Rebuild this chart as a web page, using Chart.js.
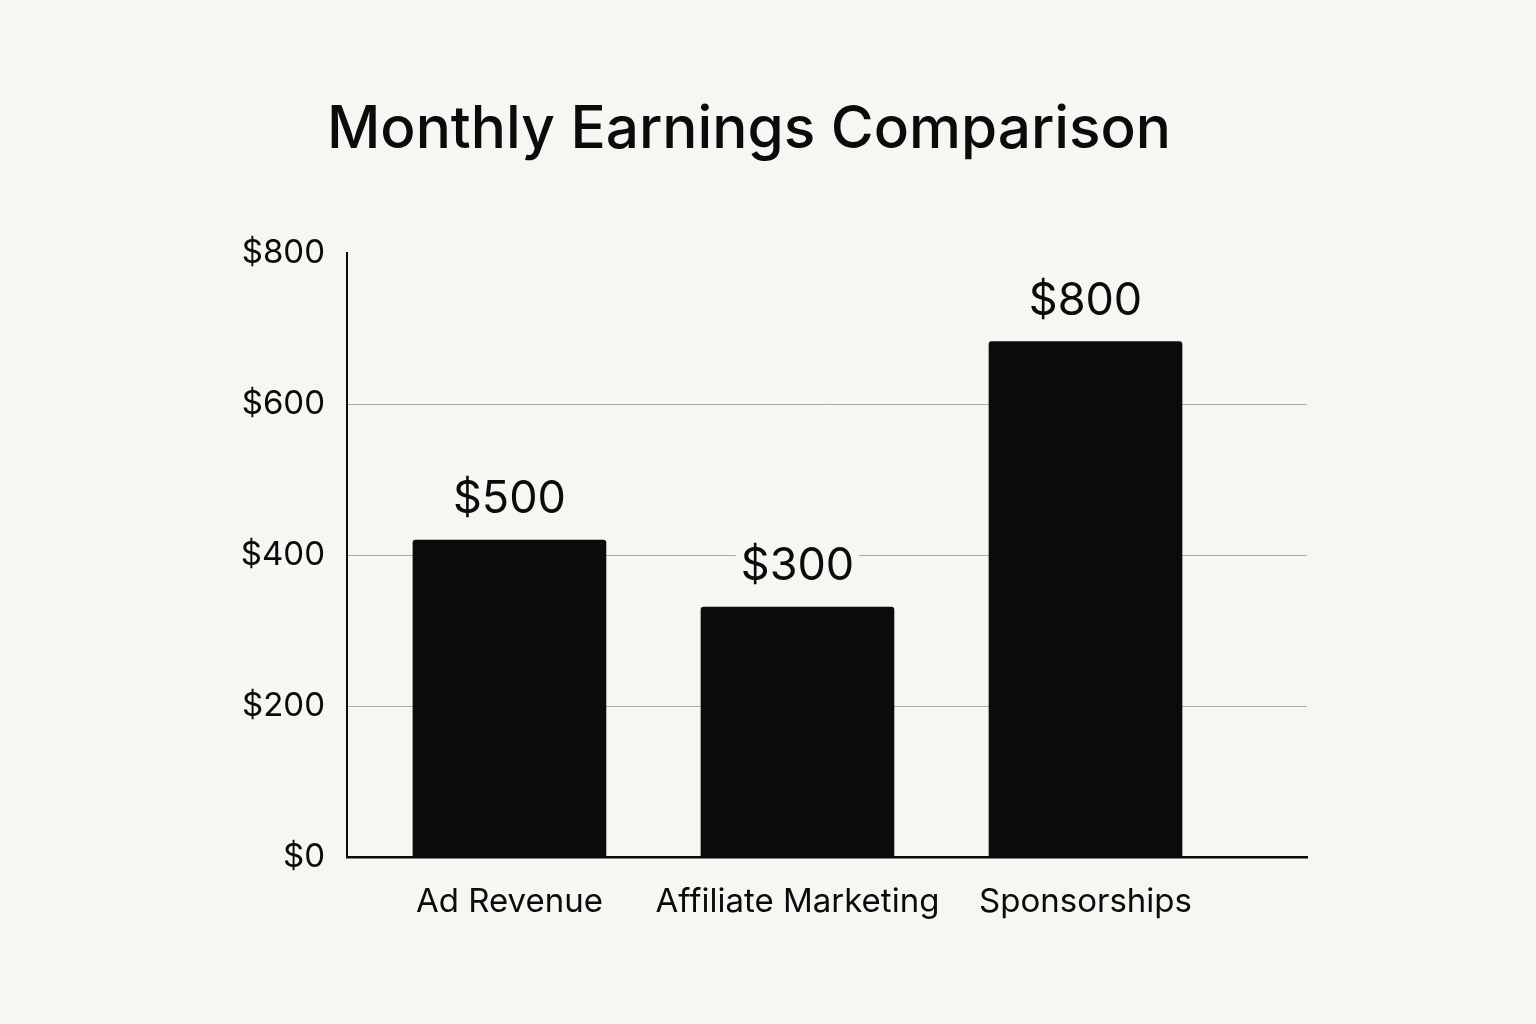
<!DOCTYPE html>
<html>
<head>
<meta charset="utf-8">
<script src="https://cdn.jsdelivr.net/npm/chart.js@4"></script>
<style>
  html, body { margin: 0; padding: 0; background: #f7f6f2; }
  #wrap { width: 1536px; height: 1024px; }
</style>
</head>
<body>
<div id="wrap"><canvas id="c" width="1536" height="1024"></canvas></div>
<script>
// ---- data ----
const categories = ['Ad Revenue', 'Affiliate Marketing', 'Sponsorships'];
const barHeights = [420, 331, 683];          // bar heights as drawn against the axis
const valueLabels = ['$500', '$300', '$800']; // text printed above each bar
const yTicks = [0, 200, 400, 600, 800];
const chartTitle = 'Monthly Earnings Comparison';

const BG = '#f7f6f2';
const INK = '#0b0b0b';
const FONT = 'Inter, "Liberation Sans", Arial, sans-serif';

const valueLabelPlugin = {
  id: 'valueLabels',
  afterDatasetsDraw(chart) {
    const ctx = chart.ctx;
    const meta = chart.getDatasetMeta(0);
    ctx.save();
    ctx.font = '400 45px ' + FONT;
    ctx.textAlign = 'center';
    ctx.textBaseline = 'alphabetic';
    meta.data.forEach((bar, i) => {
      const txt = valueLabels[i];
      const base = bar.y - 27;
      const w = ctx.measureText(txt).width;
      ctx.fillStyle = BG;
      ctx.fillRect(bar.x - w / 2 - 5, base - 38, w + 10, 46);
      ctx.fillStyle = INK;
      ctx.fillText(txt, bar.x, base);
    });
    ctx.restore();
  }
};

const bgPlugin = {
  id: 'bg',
  beforeDraw(chart) {
    const ctx = chart.ctx;
    ctx.save();
    ctx.fillStyle = BG;
    ctx.fillRect(0, 0, chart.width, chart.height);
    ctx.restore();
  }
};

new Chart(document.getElementById('c'), {
  type: 'bar',
  data: {
    datasets: [{
      data: barHeights.map((v, i) => ({ x: i, y: v })),
      backgroundColor: INK,
      borderRadius: 3,
      borderSkipped: 'bottom',
      barThickness: 193
    }]
  },
  options: {
    responsive: false,
    animation: false,
    devicePixelRatio: 1,
    layout: { padding: { left: 191, right: 229, top: 0, bottom: 0 } },
    plugins: {
      legend: { display: false },
      tooltip: { enabled: false },
      title: {
        display: true,
        text: chartTitle,
        color: INK,
        font: { family: FONT, size: 58.5, weight: '500', lineHeight: 1.2 },
        padding: { top: 95, bottom: 88 },
        align: 'center'
      }
    },
    scales: {
      x: {
        type: 'linear',
        min: -0.564,
        max: 2.769,
        offset: false,
        afterBuildTicks(axis) {
          axis.ticks = categories.map((c, i) => ({ value: i }));
        },
        afterFit(axis) { axis.height = 167; },
        grid: { display: false, drawTicks: false },
        border: { display: true, color: INK, width: 2.5 },
        ticks: {
          autoSkip: false,
          maxRotation: 0,
          padding: 25,
          color: INK,
          font: { family: FONT, size: 33 },
          callback: (v) => categories[v] ?? ''
        }
      },
      y: {
        min: 0,
        max: 800,
        afterBuildTicks(axis) {
          axis.ticks = yTicks.map(v => ({ value: v }));
        },
        afterFit(axis) { axis.width = 156; },
        grid: {
          drawTicks: false,
          color: (ctx) => (ctx.tick && (ctx.tick.value === 0 || ctx.tick.value === 800)) ? 'rgba(0,0,0,0)' : '#a9a9a6',
          lineWidth: 1
        },
        border: { display: true, color: INK, width: 2 },
        ticks: {
          padding: 22,
          color: INK,
          font: { family: FONT, size: 33 },
          callback: (v) => '$' + v
        }
      }
    }
  },
  plugins: [bgPlugin, valueLabelPlugin]
});
</script>
</body>
</html>
